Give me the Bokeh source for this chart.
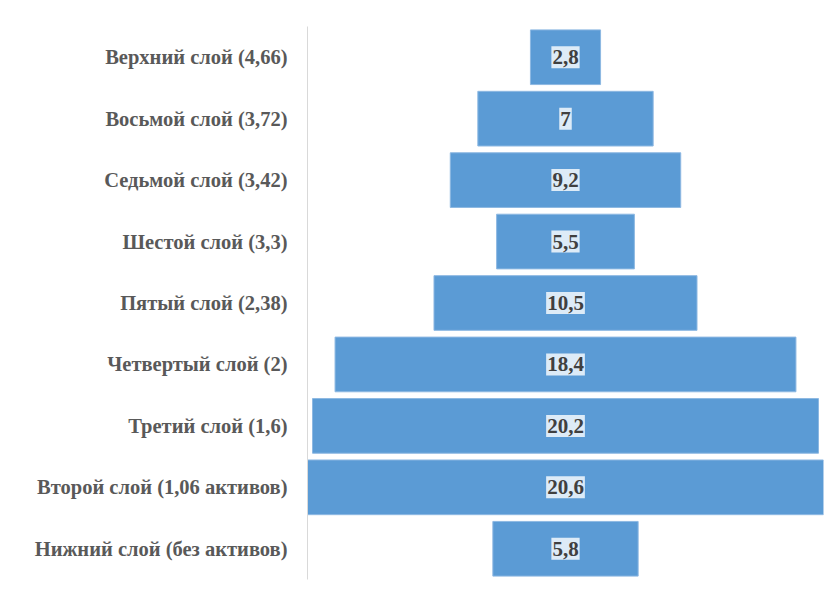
from bokeh.plotting import figure
from bokeh.models import ColumnDataSource, Range1d
from bokeh.core.properties import value
from bokeh.embed import file_html
from bokeh.resources import INLINE

layers = [
    "Верхний слой (4,66)",
    "Восьмой слой (3,72)",
    "Седьмой слой (3,42)",
    "Шестой слой (3,3)",
    "Пятый слой (2,38)",
    "Четвертый слой (2)",
    "Третий слой (1,6)",
    "Второй слой (1,06 активов)",
    "Нижний слой (без активов)",
]
shares = [2.8, 7, 9.2, 5.5, 10.5, 18.4, 20.2, 20.6, 5.8]
share_labels = ["2,8", "7", "9,2", "5,5", "10,5", "18,4", "20,2", "20,6", "5,8"]

src = ColumnDataSource(dict(
    y=layers,
    left=[-v / 2 for v in shares],
    right=[v / 2 for v in shares],
    x=[0] * len(shares),
    lab=share_labels,
))

p = figure(width=830, height=593, y_range=list(reversed(layers)),
           x_range=Range1d(-10.3, 10.3),
           output_backend="svg", toolbar_location=None,
           min_border_left=307, min_border_right=7,
           min_border_top=26, min_border_bottom=14)
p.outline_line_color = None
p.xaxis.visible = False
p.xgrid.visible = False
p.ygrid.visible = False

p.hbar(y="y", left="left", right="right", height=0.89, source=src,
       fill_color="#5B9BD5", line_color="#8DB8E2", line_width=1)

p.text(x="x", y="y", text="lab", source=src, text_align="center",
       text_baseline="middle", text_font=value("Liberation Serif"),
       text_font_style="bold", text_font_size="21px", text_color="#404040",
       background_fill_color="#DDEBF7",
       padding=dict(left=1, right=1, top=4, bottom=4))

ax = p.yaxis[0]
ax.axis_line_color = "#D9D9D9"
ax.major_tick_line_color = None
ax.minor_tick_line_color = None
ax.major_label_text_font = "Liberation Serif"
ax.major_label_text_font_style = "bold"
ax.major_label_text_font_size = "20.5px"
ax.major_label_text_color = "#595959"
ax.major_label_standoff = 14

open("out.html", "w").write(file_html(p, INLINE))
